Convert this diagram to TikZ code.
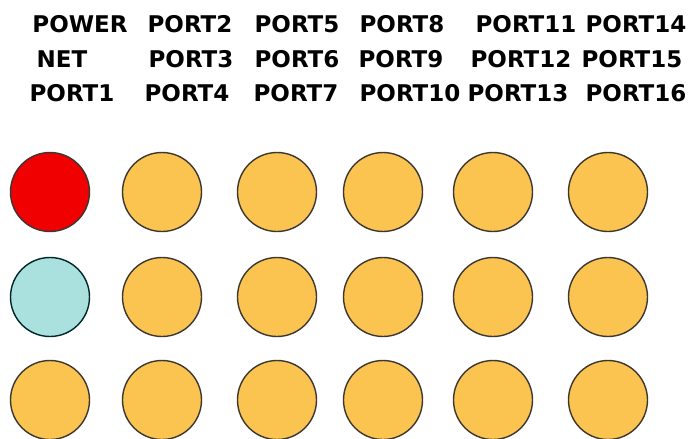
\documentclass[tikz,border=0pt]{standalone}
\usepackage{fontspec}
\setmainfont{DejaVu Sans}
\definecolor{portfill}{RGB}{251,196,80}
\definecolor{powerfill}{RGB}{240,0,0}
\definecolor{netfill}{RGB}{170,224,222}
\definecolor{ledrim}{RGB}{60,55,50}

\begin{document}
\begin{tikzpicture}[
    x=1pt, y=-1pt,
    led/.style={circle, draw=ledrim, line width=1.4pt, minimum size=79pt, inner sep=0pt, fill=portfill},
    tag/.style={font=\fontsize{23}{27}\selectfont\bfseries, inner sep=0pt}
]
    \useasboundingbox (0,0) rectangle (694,439);

    % Labels
    \node[tag] (tpower) at (80,24) {POWER};
    \node[tag] (tp2) at (190,24) {PORT2};
    \node[tag] (tp5) at (297,24) {PORT5};
    \node[tag] (tp8) at (402,24) {PORT8};
    \node[tag] (tp11) at (526,24) {PORT11};
    \node[tag] (tp14) at (636,24) {PORT14};

    \node[tag] (tnet) at (62,59) {NET};
    \node[tag] (tp3) at (191,59) {PORT3};
    \node[tag] (tp6) at (297,59) {PORT6};
    \node[tag] (tp9) at (401,59) {PORT9};
    \node[tag] (tp12) at (521,59) {PORT12};
    \node[tag] (tp15) at (632,59) {PORT15};

    \node[tag] (tp1) at (72,93) {PORT1};
    \node[tag] (tp4) at (187,93) {PORT4};
    \node[tag] (tp7) at (296,93) {PORT7};
    \node[tag] (tp10) at (410,93) {PORT10};
    \node[tag] (tp13) at (518,93) {PORT13};
    \node[tag] (tp16) at (636,93) {PORT16};

    % Lamps
    \node[led, fill=powerfill] (power) at (50,192) {};
    \node[led] (p2) at (162,192) {};
    \node[led] (p5) at (277,192) {};
    \node[led] (p8) at (383,192) {};
    \node[led] (p11) at (493,192) {};
    \node[led] (p14) at (608,192) {};

    \node[led, fill=netfill, draw=black!70!teal] (net) at (50,297) {};
    \node[led] (p3) at (162,297) {};
    \node[led] (p6) at (277,297) {};
    \node[led] (p9) at (383,297) {};
    \node[led] (p12) at (493,297) {};
    \node[led] (p15) at (608,297) {};

    \node[led] (p1) at (50,400) {};
    \node[led] (p4) at (162,400) {};
    \node[led] (p7) at (277,400) {};
    \node[led] (p10) at (383,400) {};
    \node[led] (p13) at (493,400) {};
    \node[led] (p16) at (608,400) {};
\end{tikzpicture}
\end{document}
